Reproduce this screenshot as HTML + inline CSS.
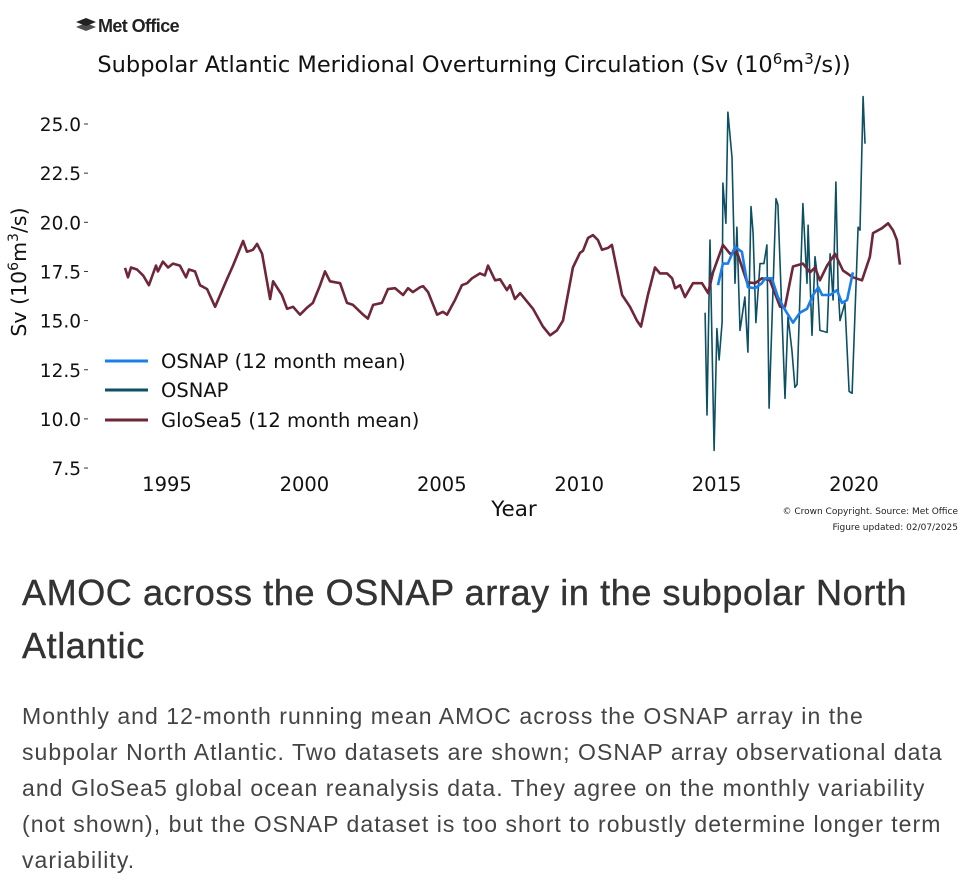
<!DOCTYPE html>
<html><head><meta charset="utf-8">
<style>
body{margin:0;background:#fff;width:970px;height:888px;overflow:hidden;position:relative;font-family:"Liberation Sans",sans-serif}
#chart{position:absolute;left:0;top:0}
h2{position:absolute;left:22px;top:566px;margin:0;font-weight:400;font-size:36px;line-height:53px;color:#333;width:948px;letter-spacing:0.6px;-webkit-text-stroke:0.4px #333}
p{position:absolute;left:22px;top:698px;margin:0;font-size:23px;line-height:36px;color:#444;width:948px;letter-spacing:1.05px;white-space:nowrap}
</style></head><body>
<svg id="chart" width="970" height="550" font-family="DejaVu Sans, sans-serif">
  <g>
    <g fill="#222"><path d="M76 22 l10-4 l10 4 l-10 4z"/><path d="M76 27 l10-4 l10 4 l-10 4z" opacity="0.8"/></g>
    <text x="98" y="32" font-family="Liberation Sans, sans-serif" font-weight="700" font-size="18" fill="#222" letter-spacing="-0.6">Met Office</text>
  </g>
  <text x="474" y="72" text-anchor="middle" font-size="22.5" fill="#111">Subpolar Atlantic Meridional Overturning Circulation (Sv (10<tspan dy="-8" font-size="15">6</tspan><tspan dy="8">m</tspan><tspan dy="-8" font-size="15">3</tspan><tspan dy="8">/s))</tspan></text>
  <g id="yaxis"></g>
  <g id="xaxis"></g>
  <text transform="translate(26,272) rotate(-90)" text-anchor="middle" font-size="20.5" fill="#111">Sv (10<tspan dy="-8" font-size="14">6</tspan><tspan dy="8">m</tspan><tspan dy="-8" font-size="14">3</tspan><tspan dy="8">/s)</tspan></text>
  <text x="514" y="516" text-anchor="middle" font-size="21.5" fill="#111">Year</text>
  <g id="series"></g>
  <g font-size="19.5" fill="#111">
    <g><line x1="105" y1="361" x2="148" y2="361" stroke="#1a7fe8" stroke-width="3"/><text x="161" y="368">OSNAP (12 month mean)</text></g>
    <g><line x1="105" y1="390" x2="148" y2="390" stroke="#0d4f63" stroke-width="3"/><text x="161" y="397">OSNAP</text></g>
    <g><line x1="105" y1="420" x2="148" y2="420" stroke="#6e2639" stroke-width="3"/><text x="161" y="427">GloSea5 (12 month mean)</text></g>
  </g>
  <text x="958" y="514" text-anchor="end" font-size="9" fill="#222">© Crown Copyright. Source: Met Office</text>
  <text x="958" y="530" text-anchor="end" font-size="9" fill="#222">Figure updated: 02/07/2025</text>
</svg>
<h2>AMOC across the OSNAP array in the subpolar North Atlantic</h2>
<p>Monthly and 12-month running mean AMOC across the OSNAP array in the<br>subpolar North Atlantic. Two datasets are shown; OSNAP array observational data<br>and GloSea5 global ocean reanalysis data. They agree on the monthly variability<br>(not shown), but the OSNAP dataset is too short to robustly determine longer term<br>variability.</p>
<script>
const yTicks=[7.5,10,12.5,15,17.5,20,22.5,25];
const yTickLabels=["7.5","10.0","12.5","15.0","17.5","20.0","22.5","25.0"];
const xTicks=[1995,2000,2005,2010,2015,2020];
const gloYears=[1993.47,1993.58,1993.69,1993.91,1994.13,1994.34,1994.6,1994.67,1994.85,1995.04,1995.22,1995.47,1995.69,1995.8,1996.02,1996.2,1996.46,1996.75,1997.18,1997.4,1997.77,1997.91,1998.13,1998.28,1998.46,1998.75,1998.86,1999.18,1999.37,1999.59,1999.84,2000.09,2000.31,2000.57,2000.75,2000.93,2001.3,2001.55,2001.77,2002.1,2002.31,2002.5,2002.82,2003.04,2003.3,2003.59,2003.77,2003.95,2004.21,2004.32,2004.5,2004.83,2005.04,2005.19,2005.48,2005.73,2005.92,2006.1,2006.39,2006.57,2006.68,2006.94,2007.12,2007.37,2007.48,2007.66,2007.85,2008.32,2008.68,2008.94,2009.19,2009.41,2009.77,2010.03,2010.14,2010.32,2010.5,2010.68,2010.83,2011.05,2011.19,2011.56,2011.85,2012.1,2012.25,2012.5,2012.76,2012.94,2013.2,2013.38,2013.49,2013.67,2013.85,2014.14,2014.47,2014.69,2014.87,2015.23,2015.49,2015.74,2016.11,2016.4,2016.65,2016.94,2017.31,2017.49,2017.78,2018.14,2018.4,2018.58,2018.76,2019.02,2019.31,2019.6,2019.96,2020.29,2020.58,2020.69,2021.02,2021.24,2021.42,2021.56,2021.67];
const gloValues=[17.68,17.2,17.7,17.6,17.3,16.8,17.8,17.5,18.0,17.7,17.9,17.8,17.2,17.6,17.5,16.8,16.6,15.7,17.1,17.8,19.05,18.5,18.6,18.9,18.4,16.1,17.0,16.3,15.6,15.7,15.3,15.65,15.9,16.8,17.5,17.0,16.9,15.9,15.8,15.35,15.1,15.8,15.9,16.6,16.65,16.3,16.65,16.45,16.7,16.75,16.45,15.3,15.45,15.3,16.05,16.8,16.9,17.15,17.4,17.3,17.8,17.05,17.1,16.55,16.8,16.1,16.4,15.6,14.7,14.25,14.5,15.0,17.7,18.45,18.55,19.2,19.35,19.1,18.6,18.7,18.85,16.3,15.7,15.0,14.7,16.3,17.7,17.4,17.4,17.15,16.65,16.8,16.2,16.9,16.9,16.4,17.45,18.85,18.4,18.5,16.95,16.9,17.15,17.05,15.7,15.7,17.75,17.9,17.45,17.7,17.05,17.8,18.4,17.55,17.2,17.05,18.25,19.45,19.7,19.95,19.6,19.1,17.85];
const osnapYears=[2014.58,2014.65,2014.76,2014.91,2015.01,2015.09,2015.2,2015.23,2015.34,2015.41,2015.56,2015.67,2015.74,2015.85,2016.03,2016.14,2016.25,2016.33,2016.43,2016.58,2016.72,2016.83,2016.91,2017.16,2017.23,2017.49,2017.6,2017.74,2017.85,2017.93,2018.14,2018.29,2018.33,2018.47,2018.58,2018.65,2018.76,2019.02,2019.13,2019.24,2019.34,2019.42,2019.49,2019.67,2019.82,2019.93,2020.15,2020.22,2020.33,2020.4];
const osnapValues=[15.4,10.2,19.1,8.4,14.6,13.0,14.9,22.0,19.95,25.6,23.3,16.9,19.75,14.5,16.2,13.4,20.8,19.45,14.9,17.9,17.9,18.85,10.55,21.2,20.9,11.05,15.2,13.5,11.6,11.75,20.95,16.9,19.85,14.25,18.25,17.45,14.5,14.4,18.4,16.05,22.05,16.7,15.0,15.9,11.4,11.3,19.75,19.6,26.4,24.0];
const meanYears=[2015.05,2015.23,2015.41,2015.67,2015.92,2016.14,2016.4,2016.65,2016.76,2017.01,2017.23,2017.49,2017.78,2018.03,2018.29,2018.51,2018.7,2018.84,2019.13,2019.38,2019.56,2019.75,2019.96];
const meanValues=[16.8,17.9,17.9,18.75,18.5,16.7,16.65,16.9,17.15,17.15,16.2,15.55,14.9,15.4,15.6,16.3,16.7,16.3,16.3,16.55,15.9,16.05,17.45];

const NS="http://www.w3.org/2000/svg";
const xs=yr=>167+(yr-1995)*27.48;
const ys=v=>124+(25-v)*19.66;
const ya=document.getElementById('yaxis'),xa=document.getElementById('xaxis'),sg=document.getElementById('series');
yTicks.forEach((v,i)=>{
  const t=document.createElementNS(NS,'text');
  
  
  t.setAttribute('x',81);t.setAttribute('y',ys(v)+7);t.setAttribute('text-anchor','end');t.setAttribute('font-size','18.5');t.setAttribute('fill','#111');
  t.textContent=yTickLabels[i];ya.appendChild(t);
  const l=document.createElementNS(NS,'line');
  
  
  l.setAttribute('x1',84);l.setAttribute('x2',88);l.setAttribute('y1',ys(v));l.setAttribute('y2',ys(v));l.setAttribute('stroke','#333');
  ya.appendChild(l);
});
xTicks.forEach(v=>{
  const t=document.createElementNS(NS,'text');
  
  
  t.setAttribute('x',xs(v));t.setAttribute('y',491);t.setAttribute('text-anchor','middle');t.setAttribute('font-size','19.5');t.setAttribute('fill','#111');
  t.textContent=v;xa.appendChild(t);
});
function line(xv,yv,color,w,name){
  const p=document.createElementNS(NS,'polyline');
  
  
  p.setAttribute('points',xv.map((x,i)=>xs(x).toFixed(1)+','+ys(yv[i]).toFixed(1)).join(' '));
  p.setAttribute('fill','none');p.setAttribute('stroke',color);p.setAttribute('stroke-width',w);p.setAttribute('stroke-linejoin','round');
  sg.appendChild(p);
}
line(osnapYears,osnapValues,'#0d4f63',1.6,'osnap-monthly-line');
line(gloYears,gloValues,'#6e2639',2.6,'glosea5-mean-line');
line(meanYears,meanValues,'#1a7fe8',2.6,'osnap-mean-line');
</script>
</body></html>
